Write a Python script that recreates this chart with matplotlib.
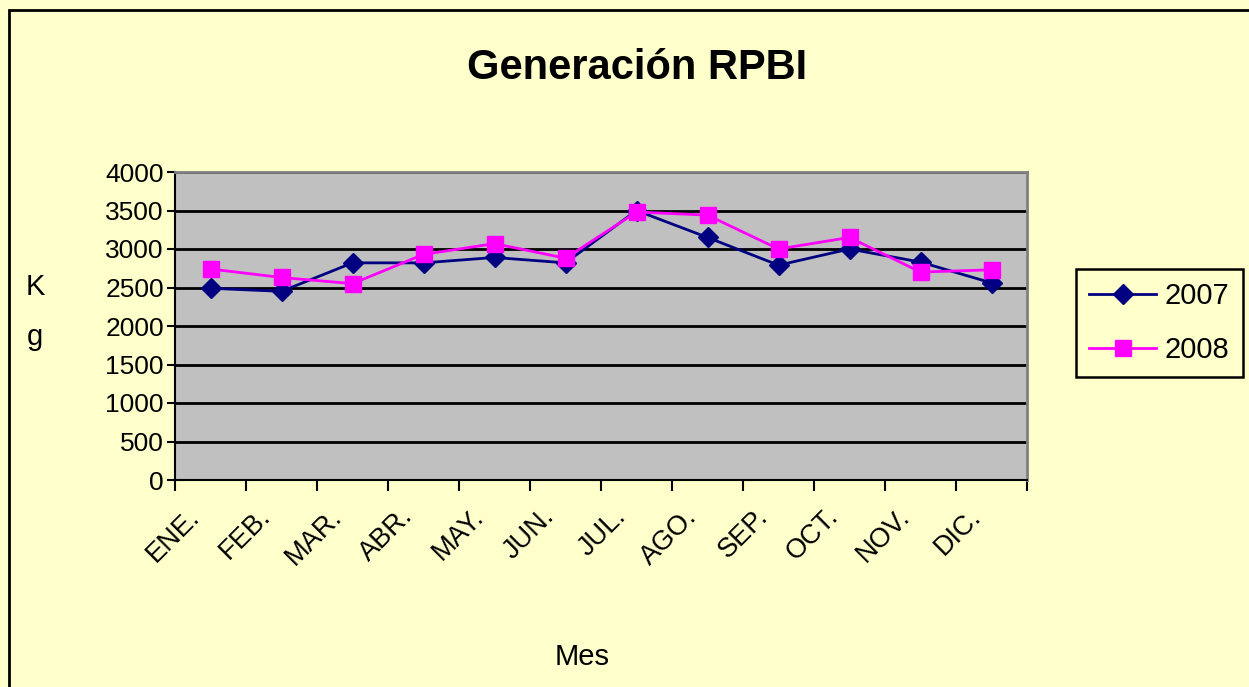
import numpy as np
import matplotlib.pyplot as plt
import matplotlib.transforms as mtransforms
from matplotlib.patches import Rectangle

meses = ['ENE.', 'FEB.', 'MAR.', 'ABR.', 'MAY.', 'JUN.', 'JUL.', 'AGO.', 'SEP.', 'OCT.', 'NOV.', 'DIC.']
kg_2007 = [2490, 2450, 2820, 2820, 2890, 2820, 3500, 3150, 2790, 3000, 2830, 2560]
kg_2008 = [2740, 2630, 2550, 2930, 3070, 2880, 3480, 3440, 3000, 3150, 2700, 2730]

W, H = 1249, 687
fig = plt.figure(figsize=(W / 100, H / 100), dpi=100)
fig.patch.set_facecolor('#FFFFCC')
plt.rcParams['font.family'] = ['Liberation Sans', 'DejaVu Sans']

# borde exterior
fig.add_artist(Rectangle((9 / W, -0.05), 1.1, 1 - 10 / H + 0.05, transform=fig.transFigure,
                         fill=False, edgecolor='black', linewidth=2))

ax = fig.add_axes([175 / W, 1 - 480 / H, 852 / W, 308 / H])
ax.set_facecolor('#C0C0C0')

x = np.arange(len(meses)) + 0.5
ax.plot(x, kg_2007, color='#000080', marker='D', markersize=10, linewidth=2, label='2007')
ax.plot(x, kg_2008, color='#FF00FF', marker='s', markersize=11, linewidth=2, label='2008')

ax.set_xlim(0, 12)
ax.set_ylim(0, 4000)
ax.set_yticks(range(0, 4001, 500))
ax.yaxis.grid(True, color='black', linewidth=2)
ax.set_axisbelow(True)

ax.set_xticks(range(0, 13))
ax.set_xticklabels([])
ax.set_xticks(x, minor=True)
ax.set_xticklabels(meses, minor=True, rotation=45, ha='right', va='top',
                   rotation_mode='anchor', fontsize=19.5)
ax.tick_params(axis='x', which='minor', length=0, pad=9)
ax.tick_params(axis='x', which='major', length=8, width=1.5, direction='out')
ax.tick_params(axis='y', length=6, width=1.5, direction='out', labelsize=19, pad=2)

# desplazar etiquetas de meses como en el original
offset = mtransforms.ScaledTranslation(-0.24, -0.11, fig.dpi_scale_trans)
for lbl in ax.get_xticklabels(minor=True):
    lbl.set_transform(lbl.get_transform() + offset)

for s in ['top', 'right']:
    ax.spines[s].set_color('#808080')
    ax.spines[s].set_linewidth(2)
for s in ['left', 'bottom']:
    ax.spines[s].set_color('black')
    ax.spines[s].set_linewidth(1.5)

fig.text(637 / W, 1 - 68 / H, 'Generación RPBI', fontsize=30, fontweight='bold',
         ha='center', va='center')
fig.text(35 / W, 1 - 287 / H, 'K', fontsize=21, ha='center', va='center')
fig.text(35 / W, 1 - 337 / H, 'g', fontsize=21, ha='center', va='center')
fig.text(582 / W, 1 - 657 / H, 'Mes', fontsize=21, ha='center', va='center')

leg = ax.legend(loc='center left', bbox_to_anchor=(1076 / W, 1 - 323 / H),
                bbox_transform=fig.transFigure, fontsize=21, frameon=True,
                fancybox=False, edgecolor='black', facecolor='#FFFFCC',
                handlelength=2.3, borderpad=0.45, labelspacing=0.9, handletextpad=0.3,
                borderaxespad=0)
leg.get_frame().set_linewidth(1.8)
leg.get_frame().set_alpha(1)

fig.savefig('out.png', dpi=100, facecolor=fig.get_facecolor())
